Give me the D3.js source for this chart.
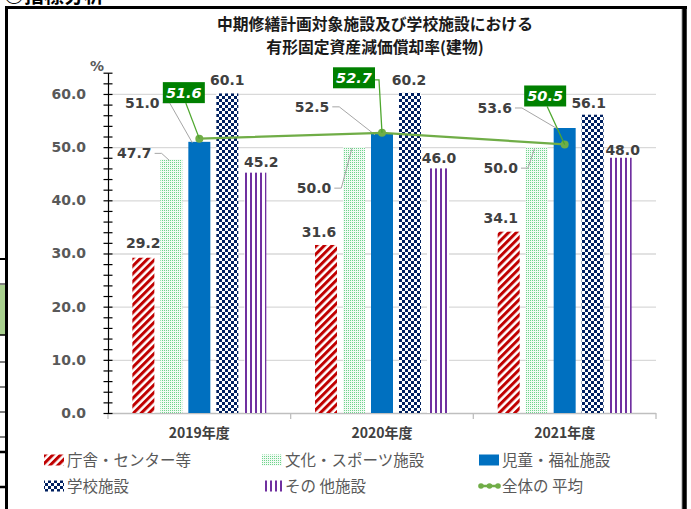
<!DOCTYPE html>
<html><head><meta charset="utf-8">
<script src="https://cdn.jsdelivr.net/npm/d3@7"></script>
<style>
html,body{margin:0;padding:0;background:#fff;}
svg{display:block;}
</style></head>
<body>
<script>
// ---------- data ----------
const categories = ["2019年度", "2020年度", "2021年度"];
const seriesNames = ["庁舎・センター等", "文化・スポーツ施設", "児童・福祉施設", "学校施設", "その 他施設"];
const chosha  = [29.2, 31.6, 34.1];   // 庁舎・センター等
const bunka   = [47.7, 50.0, 50.0];   // 文化・スポーツ施設
const jido    = [51.0, 52.5, 53.6];   // 児童・福祉施設
const gakko   = [60.1, 60.2, 56.1];   // 学校施設
const sonota  = [45.2, 46.0, 48.0];   // その他施設
const heikin  = [51.6, 52.7, 50.5];   // 全体の平均
const avgName = "全体の 平均";
const yTicks  = [0, 10, 20, 30, 40, 50, 60];
const titleLines = ["中期修繕計画対象施設及び学校施設における", "有形固定資産減価償却率(建物)"];

// ---------- layout (label nudges relative to bar top-centre / point) ----------
const barLabelNudge = [
  [[0,-10],[-7,-8],[-8,-8.7]],
  [[-37,-1],[-40,46],[-36,26]],
  [[-57,-34],[-70,-22],[-70,-15]],
  [[0,-8],[-1,-8],[-4,-7]],
  [[6,-6],[1,-5],[2,-3]]
];
const leaderSeries = [false, true, true, false, false];
const avgBoxNudge = [[-15.5,-46],[-28,-55],[-19.5,-48.5]];
const avgElbow = [false, true, false];

const seriesValues = [chosha, bunka, jido, gakko, sonota];
const W = 691, H = 509;
const svg = d3.select("body").append("svg").attr("width", W).attr("height", H);
svg.append("rect").attr("width", W).attr("height", H).attr("fill", "#fff");

// ---------- patterns ----------
const defs = svg.append("defs");
const pRed = defs.append("pattern").attr("id","pRed").attr("patternUnits","userSpaceOnUse")
  .attr("width",5.5).attr("height",5.5).attr("patternTransform","rotate(45)");
pRed.append("rect").attr("width",5.5).attr("height",5.5).attr("fill","#fff");
pRed.append("rect").attr("width",3).attr("height",5.5).attr("fill","#C00000");

const pGreen = defs.append("pattern").attr("id","pGreen").attr("patternUnits","userSpaceOnUse")
  .attr("width",2).attr("height",2);
pGreen.append("rect").attr("width",2).attr("height",2).attr("fill","#F2FBF4");
pGreen.append("rect").attr("width",1).attr("height",1).attr("fill","#6FD48C");

const pCheck = defs.append("pattern").attr("id","pCheck").attr("patternUnits","userSpaceOnUse")
  .attr("width",6).attr("height",6);
pCheck.append("rect").attr("width",6).attr("height",6).attr("fill","#fff");
pCheck.append("rect").attr("width",3).attr("height",3).attr("fill","#002060");
pCheck.append("rect").attr("x",3).attr("y",3).attr("width",3).attr("height",3).attr("fill","#002060");

const pPurple = defs.append("pattern").attr("id","pPurple").attr("patternUnits","userSpaceOnUse")
  .attr("width",5).attr("height",5);
pPurple.append("rect").attr("width",5).attr("height",5).attr("fill","#fff");
pPurple.append("rect").attr("width",2).attr("height",5).attr("fill","#7030A0");

const fills = ["url(#pRed)", "url(#pGreen)", "#0070C0", "url(#pCheck)", "url(#pPurple)"];

// ---------- surrounding sheet fragments ----------
svg.append("text").attr("x", 4).attr("y", 3).text("○指標分析")
  .attr("font-family","Noto Sans CJK JP").attr("font-weight","bold").attr("font-size",20).attr("fill","#000");
svg.append("rect").attr("x",0).attr("y",285).attr("width",5).attr("height",50).attr("fill","#A9D08E");
[[259,2],[284,1],[335,1.5],[362,1],[387,1],[412,1],[437,1],[452,2.5],[487,2.5]].forEach(([yy,w])=>{
  svg.append("line").attr("x1",0).attr("x2",6).attr("y1",yy).attr("y2",yy).attr("stroke","#000").attr("stroke-width",w);
});
// frame
svg.append("line").attr("x1",681.5).attr("x2",681.5).attr("y1",9).attr("y2",H).attr("stroke","#D0D0D0");
svg.append("line").attr("x1",6.5).attr("x2",6.5).attr("y1",6).attr("y2",H).attr("stroke","#000").attr("stroke-width",3);
svg.append("line").attr("x1",5).attr("x2",687).attr("y1",7.5).attr("y2",7.5).attr("stroke","#000").attr("stroke-width",3);
svg.append("line").attr("x1",684.5).attr("x2",684.5).attr("y1",6).attr("y2",H).attr("stroke","#000").attr("stroke-width",4.5);

// ---------- title ----------
titleLines.forEach((t,i)=>{
  svg.append("text").attr("x",375).attr("y",30 + i*23).attr("text-anchor","middle")
    .attr("font-family","Noto Sans CJK JP").attr("font-weight","bold").attr("font-size",15.8)
    .attr("fill","#1a1a1a").text(t);
});

// ---------- scales ----------
const x0 = d3.scaleBand().domain(categories).range([108, 656]).padding(0);
const x1 = d3.scaleBand().domain(d3.range(seriesNames.length)).range([0, x0.bandwidth()])
  .paddingInner(0.2143).paddingOuter(0.87);
const y = d3.scaleLinear().domain([0, 64]).range([413, 72.7]);

// gridlines
svg.append("g").attr("transform","translate(108,0)")
  .call(d3.axisLeft(y).tickValues(yTicks.filter(v=>v>0)).tickSize(-(656-108)).tickFormat(""))
  .call(g=>g.select(".domain").remove())
  .call(g=>g.selectAll(".tick line").attr("stroke","#D9D9D9").attr("stroke-width",1.3));

// bottom axis line + separators
svg.append("line").attr("x1",108).attr("x2",656).attr("y1",413.5).attr("y2",413.5).attr("stroke","#BFBFBF").attr("stroke-width",1.3);
const seps = [x0.range()[0]].concat(categories.map(c=>x0(c)+x0.bandwidth()));
seps.forEach(sx=>{
  svg.append("line").attr("x1",sx).attr("x2",sx).attr("y1",413).attr("y2",419).attr("stroke","#BFBFBF").attr("stroke-width",1.3);
});
svg.append("g").attr("transform","translate(0,413)")
  .call(d3.axisBottom(x0).tickSize(0).tickPadding(15))
  .call(g=>g.select(".domain").remove())
  .call(g=>g.selectAll("text").attr("font-family","Noto Sans CJK JP").attr("font-weight","bold")
     .attr("font-size",14).attr("fill","#404040"));

// ---------- bars ----------
const barG = svg.append("g");
seriesValues.forEach((vals,s)=>{
  barG.selectAll(null).data(vals).enter().append("rect")
    .attr("x",(d,i)=>x0(categories[i]) + x1(s))
    .attr("y",d=>y(d))
    .attr("width",x1.bandwidth())
    .attr("height",d=>y(0)-y(d))
    .attr("fill",fills[s]);
});

// y axis (crossing ticks)
const minor = d3.range(0, 64.01, 2);
svg.append("g").attr("transform","translate(108,0)")
  .call(d3.axisLeft(y).tickValues(minor).tickSize(4.5).tickSizeOuter(0).tickFormat(""))
  .call(g=>g.selectAll("path,line").attr("stroke","#000").attr("stroke-width",1.2));
svg.append("g").attr("transform","translate(108,0)")
  .call(d3.axisRight(y).tickValues(minor).tickSize(4.5).tickSizeOuter(0).tickFormat(""))
  .call(g=>g.select(".domain").remove())
  .call(g=>g.selectAll("line").attr("stroke","#000").attr("stroke-width",1.2));
svg.append("g").attr("transform","translate(108,0)")
  .call(d3.axisLeft(y).tickValues(yTicks).tickSize(0).tickPadding(22).tickFormat(d3.format(".1f")))
  .call(g=>g.select(".domain").remove())
  .call(g=>g.selectAll("text").attr("font-family","DejaVu Sans").attr("font-weight","bold")
     .attr("font-size",14).attr("fill","#595959"));
svg.append("text").attr("x",97).attr("y",71).attr("text-anchor","middle").text("%")
  .attr("font-family","DejaVu Sans").attr("font-weight","bold").attr("font-size",14).attr("fill","#595959");

// ---------- bar labels ----------
const fmt = d3.format(".1f");
const leaderG = svg.append("g");
const labG = svg.append("g");
seriesValues.forEach((vals,s)=>{
  vals.forEach((v,i)=>{
    const cx = x0(categories[i]) + x1(s) + x1.bandwidth()/2;
    const top = y(v);
    const [dx,dy] = barLabelNudge[s][i];
    const t = labG.append("text").attr("x",cx+dx).attr("y",top+dy).attr("text-anchor","middle")
      .attr("font-family","DejaVu Sans").attr("font-weight","bold").attr("font-size",14)
      .attr("fill","#404040").text(fmt(v));
    if (leaderSeries[s]) {
      const w = t.node().getComputedTextLength();
      const sx = cx + dx + w/2 + 3, sy = top + dy - 5;
      const ex = cx - (s===2 ? 7 : 2), ey = top + 1;
      leaderG.append("path").attr("d", d3.line()([[sx,sy],[sx+7,sy],[ex,ey]]))
        .attr("fill","none").attr("stroke","#A6A6A6").attr("stroke-width",1);
    }
  });
});

// ---------- average line ----------
const pts = heikin.map((v,i)=>[x0(categories[i]) + x0.bandwidth()/2, y(v)]);
svg.append("path").attr("d", d3.line()(pts)).attr("fill","none").attr("stroke","#70AD47").attr("stroke-width",2.25);
svg.selectAll(null).data(pts).enter().append("circle").attr("cx",d=>d[0]).attr("cy",d=>d[1]).attr("r",4)
  .attr("fill","#70AD47");

const boxW = 42, boxH = 21;
heikin.forEach((v,i)=>{
  const [px,py] = pts[i];
  const bx = px + avgBoxNudge[i][0], by = py + avgBoxNudge[i][1];
  let path;
  if (avgElbow[i]) path = [[bx+boxW/2, by+2],[px-3, by+2],[px, py]];
  else path = [[bx+2, by+boxH/2],[px, py]];
  svg.append("path").attr("d", d3.line()(path)).attr("fill","none").attr("stroke","#4EA72E").attr("stroke-width",1.3);
  svg.append("rect").attr("x",bx-boxW/2).attr("y",by-boxH/2).attr("width",boxW).attr("height",boxH).attr("fill","#008000");
  svg.append("text").attr("x",bx).attr("y",by+5.5).attr("text-anchor","middle")
    .attr("font-family","DejaVu Sans").attr("font-weight","bold").attr("font-style","italic")
    .attr("font-size",14.5).attr("fill","#fff").text(fmt(v));
});

// ---------- legend ----------
const legendItems = seriesNames.map((n,s)=>({name:n, fill:fills[s], type:"bar"}))
  .concat([{name:avgName, type:"line"}]);
const legCols = [44, 262, 479], legRows = [460, 486];
legendItems.forEach((it,k)=>{
  const lx = legCols[k%3], ly = legRows[Math.floor(k/3)];
  const g = svg.append("g");
  if (it.type==="bar") {
    g.append("rect").attr("x",lx).attr("y",ly-5.5).attr("width",20).attr("height",11).attr("fill",it.fill);
  } else {
    g.append("line").attr("x1",lx).attr("x2",lx+21).attr("y1",ly).attr("y2",ly).attr("stroke","#70AD47").attr("stroke-width",2.5);
    [lx+2, lx+10.5, lx+19].forEach(cx=>g.append("circle").attr("cx",cx).attr("cy",ly).attr("r",2.8).attr("fill","#70AD47"));
  }
  g.append("text").attr("x",lx+23).attr("y",ly).attr("dy","0.36em")
    .attr("font-family","Noto Sans CJK JP").attr("font-size",15.5).attr("fill","#595959").text(it.name);
});
</script>
</body></html>
